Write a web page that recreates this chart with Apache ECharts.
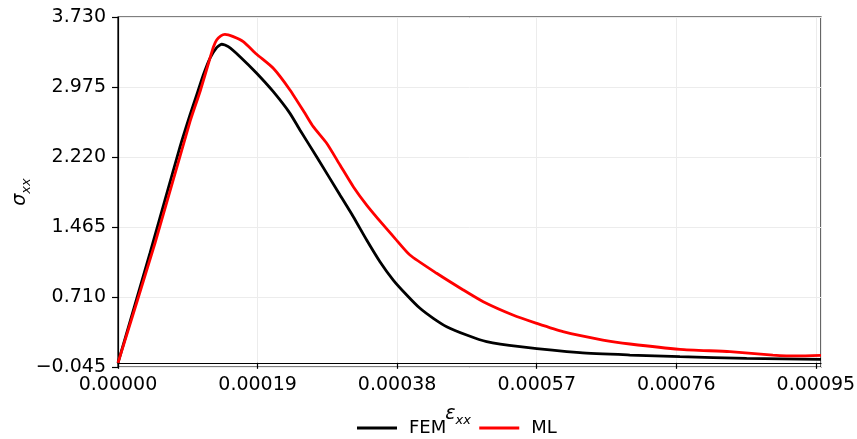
<!DOCTYPE html>
<html>
<head>
<meta charset="utf-8">
<script src="https://cdn.jsdelivr.net/npm/echarts@6/dist/echarts.min.js"></script>
<style>
html,body{margin:0;padding:0;background:#fff;}
#chart{width:857px;height:439px;}
</style>
</head>
<body>
<div id="chart"></div>
<script>
// strain values (epsilon_xx) and stress values (sigma_xx)
const femStrain = [0, 4.36e-5, 8.44e-5, 9.80e-5, 1.071e-4, 1.161e-4, 1.252e-4, 1.343e-4, 1.411e-4, 1.501e-4, 1.661e-4, 1.888e-4, 2.114e-4, 2.341e-4, 2.477e-4, 2.704e-4, 3.022e-4, 3.203e-4, 3.385e-4, 3.566e-4, 3.747e-4, 3.930e-4, 4.111e-4, 4.292e-4, 4.474e-4, 4.746e-4, 5.018e-4, 5.472e-4, 6.288e-4, 6.969e-4, 7.650e-4, 8.557e-4, 9.57e-4];
const femStress = [0, 1.185, 2.328, 2.673, 2.889, 3.105, 3.285, 3.399, 3.436, 3.410, 3.302, 3.123, 2.924, 2.691, 2.511, 2.223, 1.810, 1.576, 1.325, 1.091, 0.893, 0.732, 0.588, 0.480, 0.390, 0.300, 0.228, 0.174, 0.109, 0.084, 0.066, 0.049, 0.038];
const mlStrain = [0, 5.04e-5, 9.80e-5, 1.116e-4, 1.252e-4, 1.300e-4, 1.343e-4, 1.400e-4, 1.456e-4, 1.569e-4, 1.705e-4, 1.888e-4, 2.114e-4, 2.341e-4, 2.545e-4, 2.658e-4, 2.841e-4, 3.022e-4, 3.203e-4, 3.385e-4, 3.611e-4, 3.770e-4, 3.974e-4, 4.338e-4, 4.700e-4, 4.972e-4, 5.376e-4, 5.699e-4, 6.057e-4, 6.601e-4, 6.969e-4, 7.650e-4, 8.330e-4, 8.915e-4, 9.242e-4, 9.57e-4];
const mlStress = [0, 1.292, 2.601, 2.924, 3.285, 3.410, 3.482, 3.527, 3.543, 3.518, 3.464, 3.328, 3.177, 2.943, 2.691, 2.547, 2.368, 2.134, 1.900, 1.702, 1.487, 1.343, 1.163, 0.966, 0.786, 0.659, 0.516, 0.426, 0.336, 0.246, 0.203, 0.146, 0.120, 0.084, 0.074, 0.081];
const seriesNames = ['FEM', 'ML'];
const xTickMin = 0, xTickMax = 0.000957, xTickStep = 0.00019;
const yTickMin = -0.045, yTickMax = 3.73, yTickStep = 0.755;

const zip = (a, b) => a.map((v, i) => [v, b[i]]);
const FONT = 'DejaVu Sans';
const chart = echarts.init(document.getElementById('chart'), null, {renderer: 'canvas'});
chart.setOption({
  animation: false,
  backgroundColor: '#fff',
  grid: {left: 118, right: 36, top: 17, bottom: 72, show: true, borderColor: '#000', borderWidth: 1.2,
         containLabel: false, outerBoundsMode: 'none'},
  legend: {
    data: seriesNames,
    left: 352, top: 414,
    icon: 'rect',
    itemWidth: 40, itemHeight: 3, itemGap: 33,
    textStyle: {fontFamily: FONT, fontSize: 18, color: '#000', padding: [0, 0, 0, 7]}
  },
  xAxis: {
    type: 'value', min: xTickMin, max: xTickMax, interval: xTickStep,
    name: '{a|ε}{b|xx}', nameLocation: 'middle', nameGap: 34, nameMoveOverlap: false,
    nameTextStyle: {padding: [0, 23, 0, 0], rich: {
      a: {fontFamily: FONT, fontSize: 19, fontStyle: 'italic', color: '#000', lineHeight: 26, verticalAlign: 'middle'},
      b: {fontFamily: FONT, fontSize: 13, fontStyle: 'italic', color: '#000', lineHeight: 26, verticalAlign: 'bottom'}
    }},
    axisLine: {show: true, lineStyle: {color: '#000', width: 1.2}},
    axisTick: {show: true, length: 6, lineStyle: {color: '#000', width: 1.2}},
    axisLabel: {fontFamily: FONT, fontSize: 19, color: '#000', margin: 9, showMaxLabel: false,
      formatter: v => v.toFixed(5)},
    splitLine: {show: true, lineStyle: {color: '#ececec', width: 1}}
  },
  yAxis: {
    type: 'value', min: yTickMin, max: yTickMax, interval: yTickStep,
    name: '{a|σ}{b|xx}', nameLocation: 'middle', nameGap: 85, nameRotate: 90, nameMoveOverlap: false,
    nameTextStyle: {rich: {
      a: {fontFamily: FONT, fontSize: 19, fontStyle: 'italic', color: '#000', lineHeight: 26, verticalAlign: 'middle'},
      b: {fontFamily: FONT, fontSize: 13, fontStyle: 'italic', color: '#000', lineHeight: 26, verticalAlign: 'bottom'}
    }},
    axisLine: {show: true, lineStyle: {color: '#000', width: 1.2}},
    axisTick: {show: true, length: 6, lineStyle: {color: '#000', width: 1.2}},
    axisLabel: {fontFamily: FONT, fontSize: 19, color: '#000', margin: 12,
      formatter: v => v.toFixed(3).replace('-', '\u2212')},
    splitLine: {show: true, lineStyle: {color: '#ececec', width: 1}}
  },
  series: [
    {name: seriesNames[0], type: 'line', data: zip(femStrain, femStress), symbol: 'none', smooth: 0.2,
     lineStyle: {color: '#000', width: 2.8}, itemStyle: {color: '#000'}, z: 3},
    {name: seriesNames[1], type: 'line', data: zip(mlStrain, mlStress), symbol: 'none', smooth: 0.2,
     lineStyle: {color: '#ff0000', width: 2.8}, itemStyle: {color: '#ff0000'}, z: 4}
  ]
});
</script>
</body>
</html>
